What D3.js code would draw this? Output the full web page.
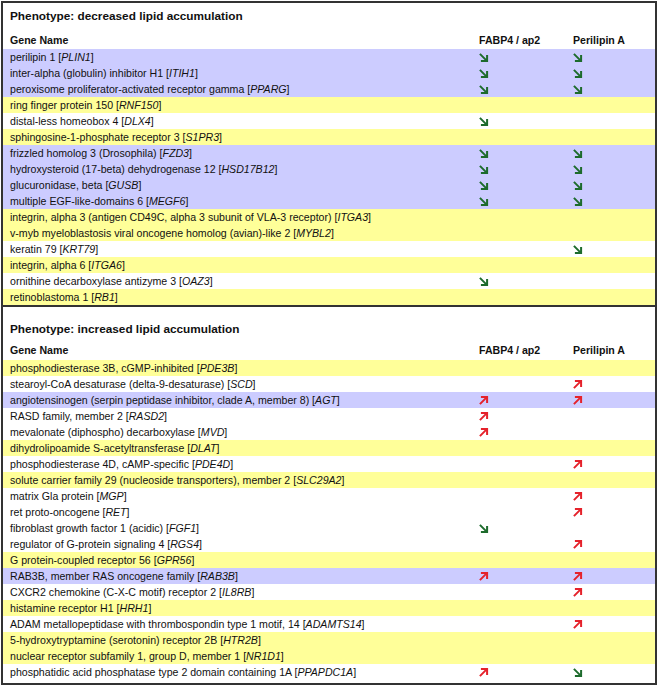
<!DOCTYPE html>
<meta charset="utf-8">
<style>
  body { margin: 0; background: #fff; }
  svg text { font-family: "Liberation Sans", Arial, sans-serif; }
</style>
<svg width="661" height="688"></svg>
<script src="https://d3js.org/d3.v7.min.js"></script>
<script>

// ---- data ----
var columns = ["FABP4 / ap2", "Perilipin A"];

var decreasedNames = [
  "perilipin 1", "inter-alpha (globulin) inhibitor H1", "peroxisome proliferator-activated receptor gamma",
  "ring finger protein 150", "distal-less homeobox 4", "sphingosine-1-phosphate receptor 3",
  "frizzled homolog 3 (Drosophila)", "hydroxysteroid (17-beta) dehydrogenase 12", "glucuronidase, beta",
  "multiple EGF-like-domains 6", "integrin, alpha 3 (antigen CD49C, alpha 3 subunit of VLA-3 receptor)",
  "v-myb myeloblastosis viral oncogene homolog (avian)-like 2", "keratin 79", "integrin, alpha 6",
  "ornithine decarboxylase antizyme 3", "retinoblastoma 1"
];
var decreasedSymbols = ["PLIN1", "ITIH1", "PPARG", "RNF150", "DLX4", "S1PR3", "FZD3", "HSD17B12", "GUSB",
  "MEGF6", "ITGA3", "MYBL2", "KRT79", "ITGA6", "OAZ3", "RB1"];
// -1 = decreased, 1 = increased, 0 = no change
var decreasedFabp4 =     [-1, -1, -1, 0, -1, 0, -1, -1, -1, -1, 0, 0, 0, 0, -1, 0];
var decreasedPerilipin = [-1, -1, -1, 0, 0, 0, -1, -1, -1, -1, 0, 0, -1, 0, 0, 0];

var increasedNames = [
  "phosphodiesterase 3B, cGMP-inhibited", "stearoyl-CoA desaturase (delta-9-desaturase)",
  "angiotensinogen (serpin peptidase inhibitor, clade A, member 8)", "RASD family, member 2",
  "mevalonate (diphospho) decarboxylase", "dihydrolipoamide S-acetyltransferase",
  "phosphodiesterase 4D, cAMP-specific", "solute carrier family 29 (nucleoside transporters), member 2",
  "matrix Gla protein", "ret proto-oncogene", "fibroblast growth factor 1 (acidic)",
  "regulator of G-protein signaling 4", "G protein-coupled receptor 56", "RAB3B, member RAS oncogene family",
  "CXCR2 chemokine (C-X-C motif) receptor 2", "histamine receptor H1",
  "ADAM metallopeptidase with thrombospondin type 1 motif, 14",
  "5-hydroxytryptamine (serotonin) receptor 2B", "nuclear receptor subfamily 1, group D, member 1",
  "phosphatidic acid phosphatase type 2 domain containing 1A"
];
var increasedSymbols = ["PDE3B", "SCD", "AGT", "RASD2", "MVD", "DLAT", "PDE4D", "SLC29A2", "MGP", "RET",
  "FGF1", "RGS4", "GPR56", "RAB3B", "IL8RB", "HRH1", "ADAMTS14", "HTR2B", "NR1D1", "PPAPDC1A"];
var increasedFabp4 =     [0, 0, 1, 1, 1, 0, 0, 0, 0, 0, -1, 0, 0, 1, 0, 0, 0, 0, 0, 1];
var increasedPerilipin = [0, 1, 1, 0, 0, 0, 1, 0, 1, 1, 0, 1, 0, 1, 1, 0, 1, 0, 0, -1];

var sections = [
  { title: "Phenotype: decreased lipid accumulation", names: decreasedNames, symbols: decreasedSymbols,
    fabp4: decreasedFabp4, perilipin: decreasedPerilipin, titleY: 15, headY: 40, top: 49 },
  { title: "Phenotype: increased lipid accumulation", names: increasedNames, symbols: increasedSymbols,
    fabp4: increasedFabp4, perilipin: increasedPerilipin, titleY: 328, headY: 350, top: 360 }
];

var rowH = 16;
var svg = d3.select("svg");

var colX = d3.scaleOrdinal().domain(columns).range([479, 573]);

function rowFill(a, b) {
  if (a !== 0 && a === b) return "#ccccff";
  if (a === 0 && b === 0) return "#ffff99";
  return "#ffffff";
}

function drawArrow(g, cx, cy, dir) {
  // dir -1: down-right (green), 1: up-right (red)
  var s = 3.6;
  var color = dir < 0 ? "#1d6b2c" : "#e5222b";
  var p;
  if (dir < 0) {
    p = "M" + (cx - s) + "," + (cy - s) + "L" + (cx + s) + "," + (cy + s) +
        "M" + (cx - s + 1) + "," + (cy + s) + "L" + (cx + s) + "," + (cy + s) + "L" + (cx + s) + "," + (cy - s + 1);
  } else {
    p = "M" + (cx - s) + "," + (cy + s) + "L" + (cx + s) + "," + (cy - s) +
        "M" + (cx - s + 1) + "," + (cy - s) + "L" + (cx + s) + "," + (cy - s) + "L" + (cx + s) + "," + (cy + s - 1);
  }
  g.append("path").attr("d", p).attr("fill", "none").attr("stroke", color)
    .attr("stroke-width", 2).attr("stroke-linecap", "butt").attr("stroke-linejoin", "miter");
}

sections.forEach(function(sec) {
  var n = sec.names.length;
  var y = d3.scaleBand().domain(d3.range(n)).range([sec.top, sec.top + n * rowH]);
  var g = svg.append("g");

  g.append("text").attr("x", 10).attr("y", sec.titleY + 4.5)
    .attr("font-size", 11.8).attr("font-weight", "bold").attr("fill", "#111").text(sec.title);

  g.append("text").attr("x", 10).attr("y", sec.headY + 4)
    .attr("font-size", 10.6).attr("font-weight", "bold").attr("fill", "#111").text("Gene Name");
  columns.forEach(function(c) {
    g.append("text").attr("x", colX(c)).attr("y", sec.headY + 4)
      .attr("font-size", 10.6).attr("font-weight", "bold").attr("fill", "#111").text(c);
  });

  d3.range(n).forEach(function(i) {
    var top = y(i);
    g.append("rect").attr("x", 3).attr("y", top).attr("width", 653).attr("height", y.bandwidth())
      .attr("fill", rowFill(sec.fabp4[i], sec.perilipin[i]));
    var t = g.append("text").attr("x", 10).attr("y", top + 12)
      .attr("font-size", 10.6).attr("fill", "#111");
    t.append("tspan").text(sec.names[i] + " [");
    t.append("tspan").attr("font-style", "italic").text(sec.symbols[i]);
    t.append("tspan").text("]");
    var vals = [sec.fabp4[i], sec.perilipin[i]];
    columns.forEach(function(c, k) {
      if (vals[k] !== 0) drawArrow(g, colX(c) + 4.5, top + 8.5, vals[k]);
    });
  });
});

// frame
svg.append("rect").attr("x", 2).attr("y", 2).attr("width", 654).attr("height", 682)
  .attr("fill", "none").attr("stroke", "#333").attr("stroke-width", 2);
svg.append("line").attr("x1", 2).attr("x2", 656).attr("y1", 306).attr("y2", 306)
  .attr("stroke", "#333").attr("stroke-width", 2);

</script>
